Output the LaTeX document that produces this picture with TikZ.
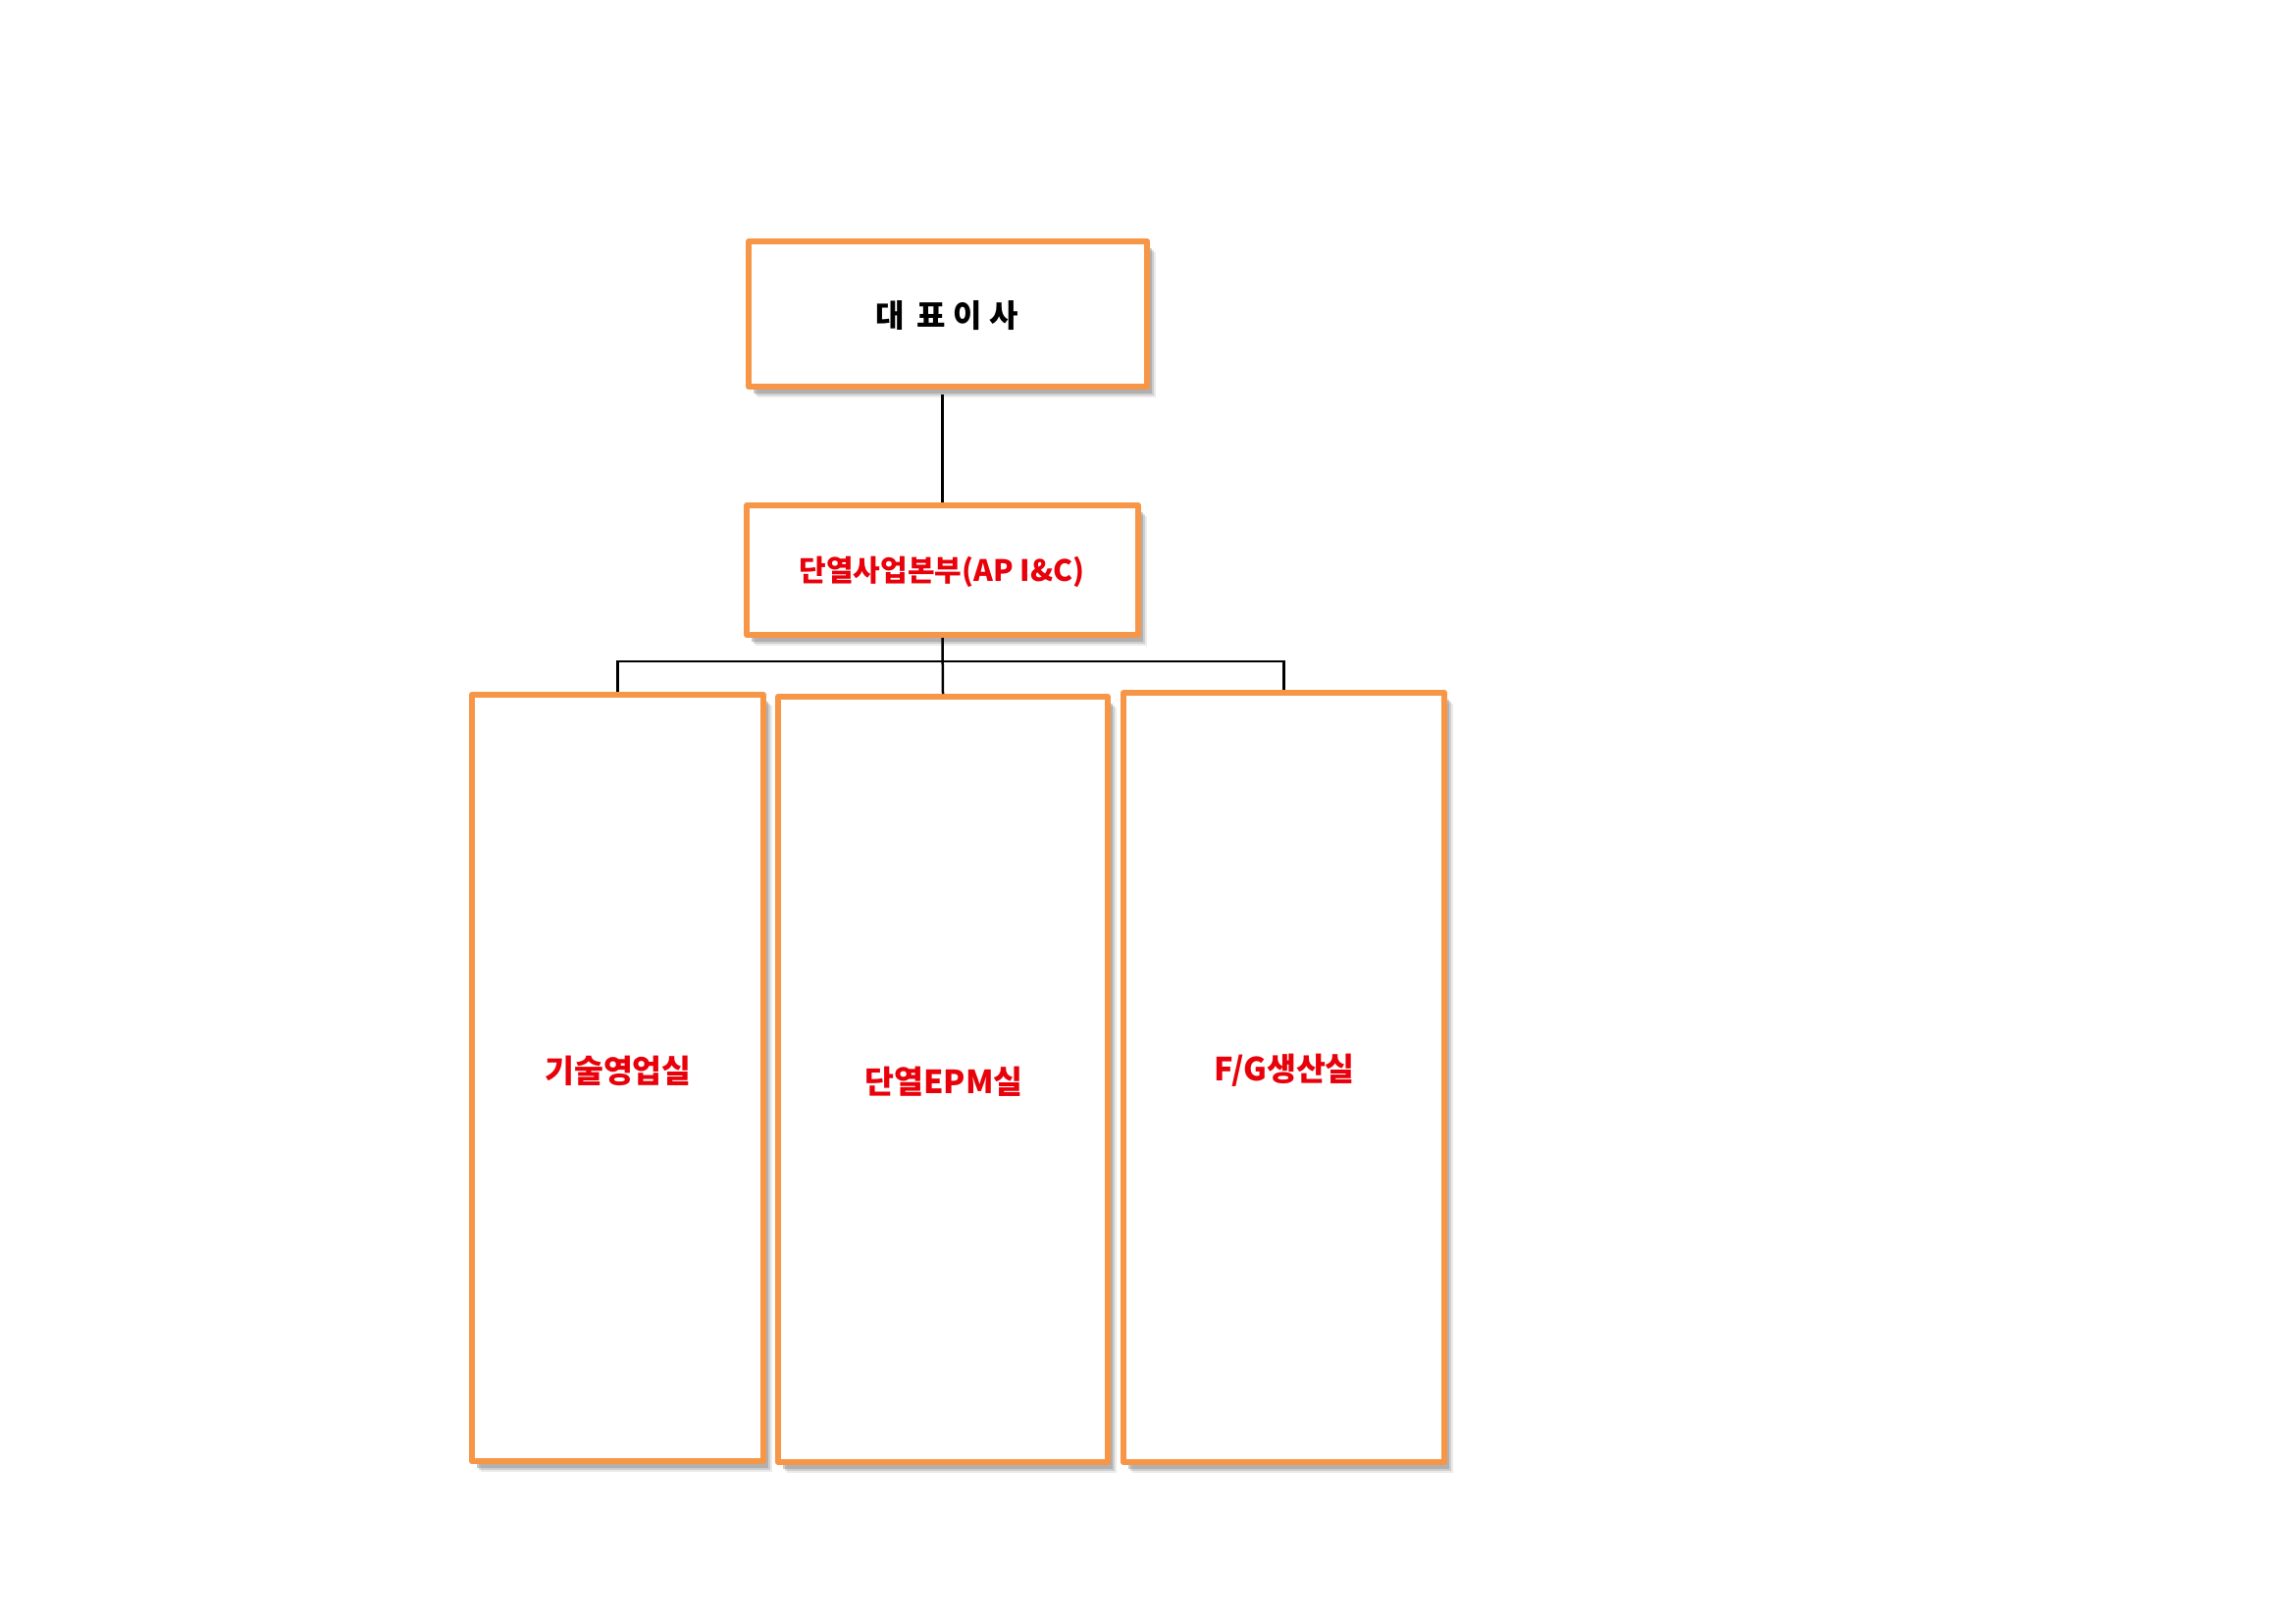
\documentclass[tikz,border=0pt]{standalone}
\usepackage{fontspec}
\newfontfamily\kr{Noto Sans CJK KR}
\usetikzlibrary{shadows,calc}
\definecolor{boxorange}{RGB}{247,150,70}
\definecolor{txtred}{RGB}{232,0,10}
\tikzset{
  orgbox/.style={draw=boxorange, line width=6pt, fill=white, rectangle, inner sep=0pt,
    line join=round,
    drop shadow={shadow xshift=9pt, shadow yshift=-11pt, fill=black!30, opacity=0.25},
    drop shadow={shadow xshift=7pt, shadow yshift=-9pt, fill=black!40, opacity=0.35},
    drop shadow={shadow xshift=5pt, shadow yshift=-7pt, fill=black!45, opacity=0.45}},
  conn/.style={draw=black, line width=2.5pt},
  lbl/.style={font=\kr\bfseries\fontsize{32.5}{38}\selectfont, text=txtred},
}
\begin{document}
\begin{tikzpicture}[x=1pt,y=-1pt]
\useasboundingbox[fill=white] (0,0) rectangle (2339,1654);
\node[orgbox, anchor=north west, minimum width=406pt, minimum height=148pt] (t) at (760,243) {};
\node[font=\kr\bfseries\fontsize{32}{38}\selectfont, text=black] (tt) at (965,322) {대\hspace{0.4em}표 이 사};
\node[orgbox, anchor=north west, minimum width=399pt, minimum height=132pt] (s) at (758,512) {};
\node[font=\kr\bfseries\fontsize{30}{36}\selectfont, text=txtred] (st) at (960,583) {단열사업본부(AP I\&C)};
\node[orgbox, anchor=north west, minimum width=297pt, minimum height=781pt] (a) at (478,705) {};
\node[orgbox, anchor=north west, minimum width=336pt, minimum height=780pt] (b) at (790,707) {};
\node[orgbox, anchor=north west, minimum width=327pt, minimum height=784pt] (c) at (1142,703) {};
\node[lbl] (at) at (630,1091) {기술영업실};
\node[lbl] (bt) at (962,1102) {단열EPM실};
\node[lbl] (ct) at (1309,1091) {F/G생산실};
\coordinate (bus) at (960,674);
\draw[conn] ([yshift=-5pt]t.south -| s.north) -- (s.north);
\draw[conn] (s.south) -- (b.north);
\draw[conn] (a.north) |- (bus) -| (c.north);
\end{tikzpicture}
\end{document}
